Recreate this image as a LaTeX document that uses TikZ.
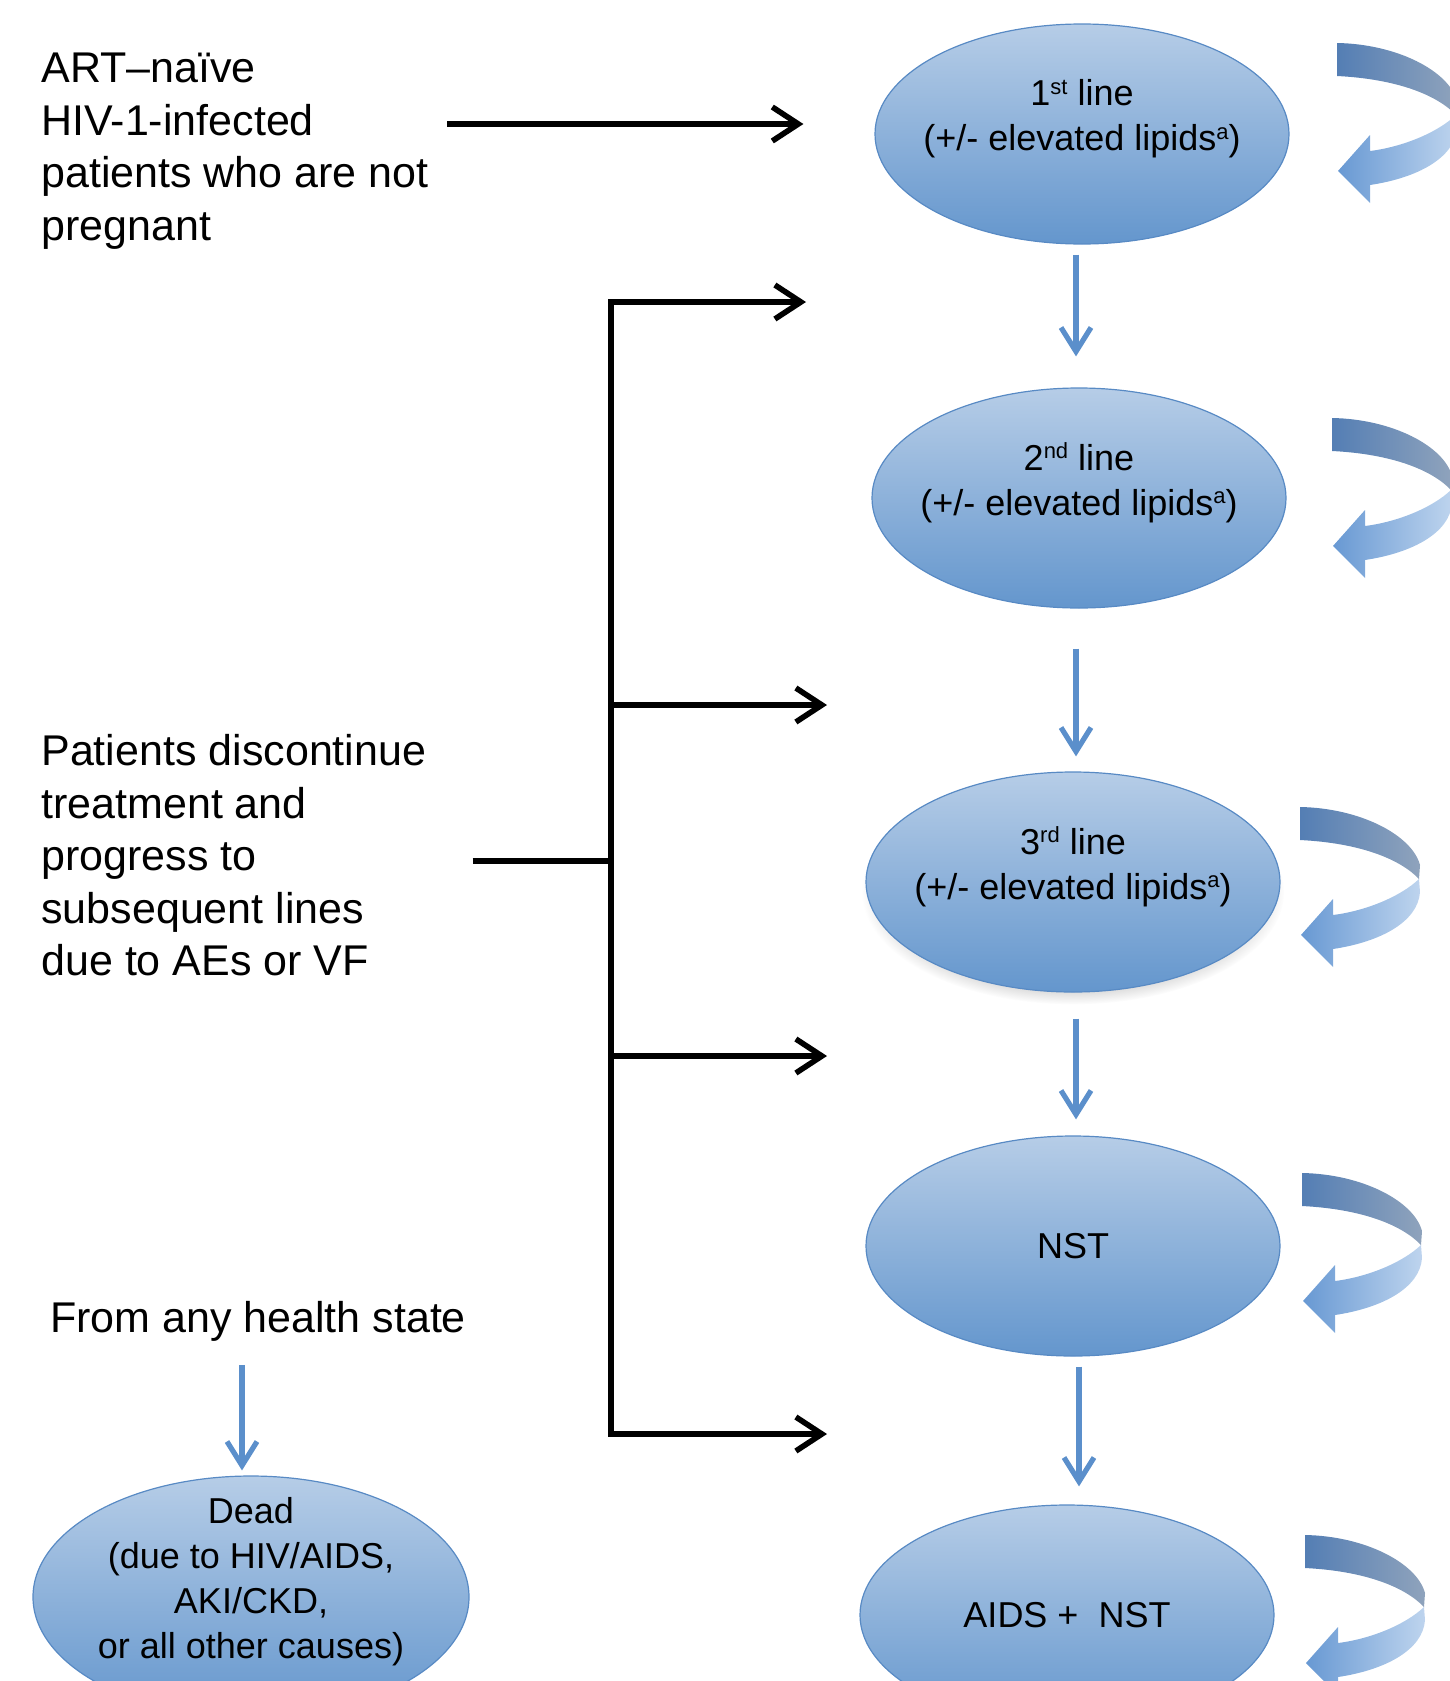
\documentclass[tikz,border=0pt]{standalone}
\usepackage{fontspec}
\setmainfont{Liberation Sans}
\usetikzlibrary{arrows.meta, calc, positioning, shapes.geometric, shadows}
\definecolor{StateTop}{RGB}{182,205,231}
\definecolor{StateBottom}{RGB}{100,150,205}
\definecolor{StateEdge}{RGB}{88,138,196}
\definecolor{FlowBlue}{RGB}{91,143,203}
\definecolor{BackDark}{RGB}{84,126,180}
\definecolor{BackGrey}{RGB}{143,163,188}
\definecolor{FrontMid}{RGB}{104,153,211}
\definecolor{FrontLite}{RGB}{190,212,238}
\newcommand{\supmark}[1]{\raisebox{0.32em}{\fontsize{11pt}{11pt}\selectfont #1}}
\tikzset{%
  state/.style={%
    ellipse,%
    draw=StateEdge,%
    line width=0.6pt,%
    top color=StateTop,%
    bottom color=StateBottom,%
    minimum width=207pt,%
    minimum height=110pt,%
    inner sep=-15pt,%
    font={\fontsize{18pt}{22.5pt}\selectfont},%
    align=center%
  },
  raised/.style={text depth=19pt},
  annotate/.style={%
    inner sep=0pt,%
    align=left,%
    font={\fontsize{21.5pt}{26.25pt}\selectfont}%
  },
  link/.style={%
    draw=black,%
    line width=2.8pt%
  },
  pathway/.style={%
    link,%
    -{Straight Barb[length=13pt, width=17pt]}%
  },
  flow/.style={%
    draw=FlowBlue,%
    line width=2.6pt,%
    -{Straight Barb[length=12pt, width=15pt]}%
  },
  loopback/.pic={%
    \shade[left color=BackDark, right color=BackGrey]
      (0,0) .. controls (60,1) and (112,28) .. (120,58)
      -- (119,72) .. controls (100,52) and (60,36) .. (0,33) -- cycle;
    \shade[left color=FrontMid, right color=FrontLite]
      (119,72) -- (120,85) .. controls (118,115) and (80,135) .. (33,142)
      -- (33,160) -- (1,128) -- (33,92) -- (33,108)
      .. controls (65,104) and (100,90) .. (119,72) -- cycle;
  },
}
\begin{document}
\begin{tikzpicture}[x=0.5pt, y=-0.5pt]
  \useasboundingbox (0,0) rectangle (1450,1681);

  % health states
  \node[state, raised] (L1) at (1082,134) {1\supmark{st} line\\(+/- elevated lipids\supmark{a})};
  \node[state, raised] (L2) at (1079,498) {2\supmark{nd} line\\(+/- elevated lipids\supmark{a})};
  \node[state, raised, circular drop shadow={shadow xshift=0pt, shadow yshift=-5pt, shadow scale=1.02, opacity=0.35}] (L3) at (1073,882) {3\supmark{rd} line\\(+/- elevated lipids\supmark{a})};
  \node[state] (NST) at (1073,1246) {NST};
  \node[state] (AIDS) at (1067,1615) {AIDS +\ \ NST};
  \node[state, raised, minimum width=218pt, minimum height=121pt] (Dead) at (251,1597) {Dead\\(due to HIV/AIDS,\\AKI/CKD,\\or all other causes)};

  % annotations
  \node[annotate, anchor=north west] (naive) at (41,53) {ART–naïve\\HIV-1-infected\\patients who are not\\pregnant};
  \node[annotate, anchor=north west] (progress) at (41,734) {Patients discontinue\\treatment and\\progress to\\subsequent lines\\due to AEs or VF};
  \node[annotate, anchor=north] (anystate) at (258,1301) {From any health state};

  % transitions between states
  \coordinate (axis) at (1076,0);
  \draw[flow] ($(L1.south -| axis)+(0,10)$) -- ($(L2.north -| axis)+(0,-31)$);
  \draw[flow] ($(L2.south -| axis)+(0,40)$) -- ($(L3.north -| axis)+(0,-15)$);
  \draw[flow] ($(L3.south -| axis)+(0,26)$) -- ($(NST.north -| axis)+(0,-16)$);
  \draw[flow] ($(NST.south -| axis)+(3,10)$) -- ($(AIDS.north -| axis)+(3,-18)$);
  \draw[flow] ($(anystate.south -| Dead.north)+(-9,23)$) -- ($(Dead.north)+(-9,-5)$);

  % entry and discontinuation
  \coordinate (fork) at (611,861);
  \coordinate (entry2) at (611,302);
  \coordinate (entry3) at (611,705);
  \coordinate (entry4) at (611,1056);
  \coordinate (entry5) at (611,1434);
  \coordinate (tip2) at (806,302);
  \coordinate (tip3) at (827,705);
  \coordinate (tip4) at (827,1056);
  \coordinate (tip5) at (827,1434);

  \draw[pathway] ($(naive.east |- L1.west)+(18,-10)$) -- ($(L1.west)+(-71,-10)$);
  \draw[link] ($(progress.east |- fork)+(46,0)$) -- (fork);
  \draw[link, line cap=rect] (entry2) -- (entry5);
  \draw[pathway] (entry2) -- (tip2);
  \draw[pathway] (entry3) -- (tip3);
  \draw[pathway] (entry4) -- (tip4);
  \draw[pathway] (entry5) -- (tip5);

  % staying in the same state
  \pic at ([shift={(255,-91)}]L1.center) {loopback};
  \pic at ([shift={(253,-80)}]L2.center) {loopback};
  \pic at ([shift={(227,-75)}]L3.center) {loopback};
  \pic at ([shift={(229,-73)}]NST.center) {loopback};
  \pic at ([shift={(238,-80)}]AIDS.center) {loopback};

\end{tikzpicture}
\end{document}
